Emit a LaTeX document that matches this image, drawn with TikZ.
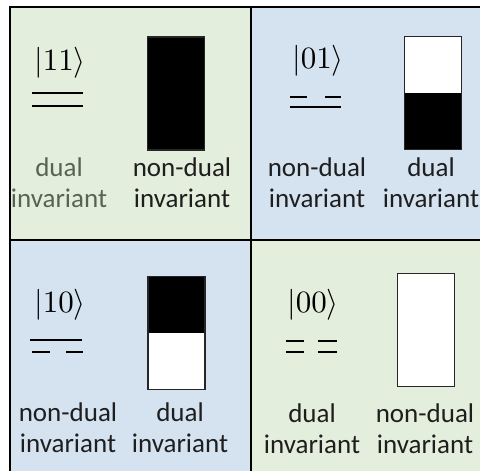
\documentclass[tikz,border=0pt]{standalone}
\usepackage{graphicx}
\usepackage[no-math]{fontspec}
\setmainfont{Carlito}
\definecolor{cellgreen}{RGB}{228,238,220}
\definecolor{cellblue}{RGB}{213,227,241}
\definecolor{dimtext}{RGB}{89,99,84}
\definecolor{darktext}{RGB}{30,30,30}
\newcommand{\bigket}[1]{\scalebox{3.1}{$|#1\rangle$}}
\tikzset{
  ket/.style={inner sep=0pt, anchor=base},
  statetext/.style={font=\fontsize{27}{31}\selectfont, text=darktext, align=center, inner sep=0pt, anchor=base},
  bar/.style={draw=black!85, line width=1.2pt, minimum width=57pt, minimum height=113pt, inner sep=0pt},
  lowerhalf/.style={path picture={\fill[black] (path picture bounding box.west) rectangle (path picture bounding box.south east);}},
  upperhalf/.style={path picture={\fill[black] (path picture bounding box.north west) rectangle (path picture bounding box.east);}},
  level/.style={line width=2.5pt}
}
\begin{document}
\begin{tikzpicture}[x=1pt, y=-1pt]
\useasboundingbox (0,0) rectangle (480,471);

% cells
\fill[cellgreen] (9,6) rectangle (251,240);
\fill[cellblue] (251,6) rectangle (480,240);
\fill[cellblue] (9,240) rectangle (251,471);
\fill[cellgreen] (251,240) rectangle (480,471);
\draw[line width=2pt] (9.5,480) -- (9.5,6.5) -- (490,6.5);
\draw[line width=2pt] (251,6) -- (251,480);
\draw[line width=2pt] (9,240) -- (490,240);

% |11>
\node[ket] (ket11) at (60,70) {\bigket{11}};
\draw[level] (32,93) -- (83,93);
\draw[level] (32,106) -- (83,106);
\node[bar, fill=black] (bar11) at (176,93.5) {};
\node[statetext, text=dimtext] (dual11) at (59,207) {dual\\invariant};
\node[statetext] (nondual11) at (182,207) {non-dual\\invariant};

% |01>
\node[ket] (ket01) at (318,68) {\bigket{01}};
\draw[level] (290,97) -- (307,97);
\draw[level] (325,97) -- (341,97);
\draw[level] (290,107) -- (341,107);
\node[bar, fill=white, lowerhalf] (bar01) at (433,93) {};
\node[statetext] (nondual01) at (317,207) {non-dual\\invariant};
\node[statetext] (dual01) at (431,207) {dual\\invariant};

% |10>
\node[ket] (ket10) at (60,312) {\bigket{10}};
\draw[level] (30,340) -- (82,340);
\draw[level] (32,352) -- (50,352);
\draw[level] (66,352) -- (83,352);
\node[bar, fill=white, upperhalf] (bar10) at (176.5,333) {};
\node[statetext] (nondual10) at (68,452) {non-dual\\invariant};
\node[statetext] (dual10) at (180,452) {dual\\invariant};

% |00>
\node[ket] (ket00) at (313,312) {\bigket{00}};
\draw[level] (286,341) -- (304,341);
\draw[level] (318,341) -- (337,341);
\draw[level] (286,352) -- (304,352);
\draw[level] (318,352) -- (337,352);
\node[bar, fill=white] (bar00) at (426,330) {};
\node[statetext] (dual00) at (312,453) {dual\\invariant};
\node[statetext] (nondual00) at (425,453) {non-dual\\invariant};
\end{tikzpicture}
\end{document}
